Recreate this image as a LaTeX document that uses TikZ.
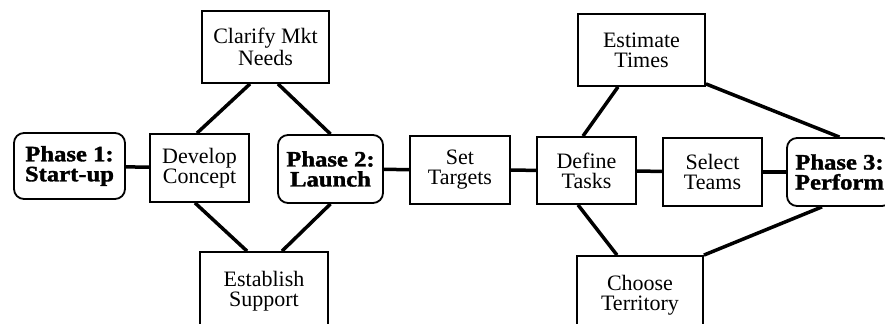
\documentclass[tikz,border=0pt]{standalone}
\usepackage{fontspec}
\setmainfont{Liberation Serif}
\newfontfamily\fasefont{Liberation Serif}[FakeStretch=1.12, BoldFeatures={FakeBold=1.5}]
\usetikzlibrary{calc}
\tikzset{
  tarea/.style={rectangle, draw, line width=0.9pt, minimum width=49.5pt, minimum height=34pt,
                inner sep=0pt, align=center, font=\fontsize{11}{10}\selectfont},
  grande/.style={tarea, minimum width=63.5pt, minimum height=36pt},
  fase/.style={tarea, rounded corners=5pt, minimum width=52.5pt,
               font=\fontsize{11}{10}\fasefont\bfseries},
  enlace/.style={line width=1.75pt},
}

\begin{document}
\begin{tikzpicture}[x=0.5pt, y=-0.5pt]
    \useasboundingbox (0,0) rectangle (885,324);
    % fila central
    \node[fase, minimum width=55.5pt, minimum height=33pt] (fase1) at (69.5,166) {Phase 1:\\Start-up};
    \node[tarea] (desarrollo) at (199.5,168) {Develop\\Concept};
    \node[fase] (fase2) at (330.5,169) {Phase 2:\\Launch};
    \node[tarea, minimum width=50pt] (metas) at (460,170) {Set\\Targets};
    \node[tarea, minimum height=33.5pt] (definir) at (586.5,170.5) {Define\\Tasks};
    \node[tarea] (seleccionar) at (712.5,172) {Select\\Teams};
    \node[fase] (fase3) at (839.5,172) {Phase 3:\\Perform};
    % arriba y abajo
    \node[grande] (aclarar) at (265.5,47) {Clarify Mkt\\Needs};
    \node[grande, minimum width=64pt, minimum height=39pt] (apoyo) at (264,291) {Establish\\Support};
    \node[grande] (estimar) at (641.5,50) {Estimate\\Times};
    \node[grande, minimum width=63pt, minimum height=39pt] (territorio) at (640,295) {Choose\\Territory};

    \draw[enlace] (fase1)--(desarrollo);
    \draw[enlace] (fase2)--(metas);
    \draw[enlace] (metas)--(definir);
    \draw[enlace] (definir)--(seleccionar);
    \draw[enlace] (seleccionar)--(fase3);
    \draw[enlace] ($(desarrollo.north)+(-2.5,0)$)--($(aclarar.south)+(-15.5,0)$);
    \draw[enlace] ($(aclarar.south)+(12.5,0)$)--(fase2.north);
    \draw[enlace] ($(desarrollo.south)+(-4.5,0)$)--($(apoyo.north)+(-17,0)$);
    \draw[enlace] (fase2.south)--($(apoyo.north)+(18,0)$);
    \draw[enlace] ($(definir.north)+(-3.5,0)$)--($(estimar.south)+(-23.5,0)$);
    \draw[enlace] ($(definir.south)+(-8.5,0)$)--($(territorio.north)+(-23,0)$);
    \draw[enlace] ($(estimar.south east)+(0,-3)$)--(fase3.north);
    \draw[enlace] (territorio.north east)--($(fase3.south)+(-17.5,0)$);
\end{tikzpicture}
\end{document}
